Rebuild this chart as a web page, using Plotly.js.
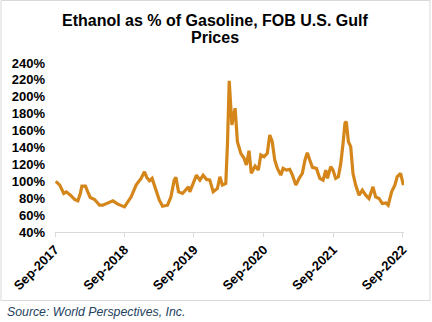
<!DOCTYPE html>
<html>
<head>
<meta charset="utf-8">
<script src="https://cdn.plot.ly/plotly-3.0.1.min.js"></script>
<style>
html,body{margin:0;padding:0;background:#fff;}
#chart{width:432px;height:322px;}
</style>
</head>
<body>
<div id="chart"></div>
<script>
var dates = [
"2017-09-05","2017-09-26","2017-10-17","2017-10-31","2017-11-21","2017-12-13","2017-12-30",
"2018-01-12","2018-01-20","2018-02-08","2018-02-20","2018-03-05","2018-03-28","2018-04-23",
"2018-05-10","2018-05-28","2018-06-11","2018-07-02","2018-07-28","2018-09-01","2018-10-06",
"2018-11-01","2018-11-27","2018-12-15","2018-12-27","2019-01-10","2019-01-24","2019-02-10",
"2019-03-03","2019-03-20","2019-04-15","2019-05-03","2019-05-20","2019-05-29","2019-06-12",
"2019-07-03","2019-07-20","2019-08-03","2019-08-10","2019-08-28","2019-09-14","2019-10-02",
"2019-10-19","2019-11-06","2019-11-23","2019-12-11","2020-01-02","2020-01-15","2020-01-28",
"2020-02-15","2020-02-24","2020-03-04","2020-03-18","2020-04-04","2020-04-16","2020-05-04",
"2020-05-21","2020-06-02","2020-06-16","2020-06-28","2020-07-18","2020-08-04","2020-08-17",
"2020-09-03","2020-09-20","2020-10-03","2020-10-16","2020-10-29","2020-11-12","2020-11-30",
"2020-12-12","2020-12-29","2021-01-16","2021-01-30","2021-02-17","2021-03-06","2021-03-23",
"2021-04-06","2021-04-18","2021-05-01","2021-05-15","2021-06-05","2021-06-23","2021-07-10",
"2021-07-24","2021-08-02","2021-08-19","2021-08-31","2021-09-14","2021-09-28","2021-10-11",
"2021-10-23","2021-11-02","2021-11-09","2021-11-20","2021-12-02","2021-12-14","2021-12-28",
"2022-01-15","2022-02-01","2022-02-19","2022-03-08","2022-03-29","2022-04-12","2022-04-30",
"2022-05-17","2022-06-04","2022-06-17","2022-07-05","2022-07-22","2022-08-03","2022-08-21",
"2022-08-30","2022-09-05"
];
var ethanolPct = [
100,95.5,85.6,87.5,83.6,78.5,76.8,
85.6,94.3,94.3,87.5,80.9,78.5,71.7,
71.7,73.7,74.4,76.8,72.9,69.7,81.6,
95.5,103.4,111.3,104.6,100.6,103.4,91.5,
77.6,70.5,71.7,81.6,101.4,104.6,87.5,
85.6,89.5,93.4,87.5,97.5,107.3,101.4,
107.3,102.2,101.4,87.5,91.5,105.3,95.5,
97.5,145,219,166.7,186.5,146.9,133.1,
127.2,119.2,136.2,109.4,118,113.3,131.1,
129.1,133.1,154.8,146.9,125.2,115.3,107.3,
115.3,113.3,114.1,107.3,95.5,103.4,109.4,
125.2,133.8,125.2,116.5,115.3,103.4,101.4,
113.3,103.4,117.2,113.3,103.4,105.3,121.2,
145,168.7,170.6,146.9,141,109.4,95.5,
83.6,89.5,83.6,79.7,93.4,81.6,79.7,
73.7,74.4,71.7,87.5,95.5,105.3,109.4,
101.4,95.5
];
var tickDates = ["2017-09-01","2018-09-01","2019-09-01","2020-09-01","2021-09-01","2022-09-01"];
var tickLabels = ["Sep-2017","Sep-2018","Sep-2019","Sep-2020","Sep-2021","Sep-2022"];
var yTicks = [40,60,80,100,120,140,160,180,200,220,240];
var titleLines = ["Ethanol as % of Gasoline, FOB U.S. Gulf", "Prices"];
var sourceText = "Source: World Perspectives, Inc.";

var trace = {
  x: dates, y: ethanolPct, type: 'scatter', mode: 'lines',
  line: {color: '#D4861A', width: 3.2},
  hoverinfo: 'skip'
};

var L = 55, R = 404, T = 63.3, B = 231.7, W = 432, H = 322;
function px(x){return (x - L)/(R - L);}
function py(y){return (B - y)/(B - T);}
var FF = 'Liberation Sans, Arial, sans-serif';

var layout = {
  width: W, height: H,
  margin: {l: L, r: W - R, t: T, b: H - B, pad: 0},
  paper_bgcolor: '#ffffff', plot_bgcolor: '#ffffff',
  showlegend: false,
  font: {family: FF, color: '#000'},
  xaxis: {
    type: 'date',
    range: ['2017-09-01', '2022-09-08'],
    tickmode: 'array', tickvals: tickDates, ticktext: tickLabels,
    tickangle: -45,
    tickfont: {size: 13, family: FF, color: '#000', weight: 'bold'},
    showgrid: false, zeroline: false,
    showline: true, linecolor: '#d9d9d9', linewidth: 1,
    ticks: 'outside', ticklen: 4, tickcolor: '#d9d9d9', tickwidth: 1
  },
  yaxis: {
    range: [40, 240],
    tickmode: 'array', tickvals: yTicks,
    ticktext: yTicks.map(function(v){return v + '%';}),
    tickfont: {size: 13, family: FF, color: '#000', weight: 'bold'},
    showgrid: false, zeroline: false, showline: false,
    ticks: '', ticklabelstandoff: 9
  },
  shapes: [{
    type: 'rect', xref: 'paper', yref: 'paper',
    x0: px(1), x1: px(430), y0: py(300), y1: py(1),
    line: {color: '#d9d9d9', width: 1}, fillcolor: 'rgba(0,0,0,0)', layer: 'below'
  }],
  annotations: [
    {
      text: '<b>' + titleLines[0] + '</b>',
      xref: 'paper', yref: 'paper', x: px(215), y: py(20.5),
      xanchor: 'center', yanchor: 'middle', showarrow: false,
      font: {size: 16, family: FF, color: '#000'}
    },
    {
      text: '<b>' + titleLines[1] + '</b>',
      xref: 'paper', yref: 'paper', x: px(215), y: py(37.5),
      xanchor: 'center', yanchor: 'middle', showarrow: false,
      font: {size: 16, family: FF, color: '#000'}
    },
    {
      text: '<i>' + sourceText + '</i>',
      xref: 'paper', yref: 'paper', x: px(5), y: py(311),
      xanchor: 'left', yanchor: 'middle', showarrow: false,
      font: {size: 12.3, family: FF, color: '#243F60'}
    }
  ]
};

Plotly.newPlot('chart', [trace], layout, {displayModeBar: false, staticPlot: true});
</script>
</body>
</html>
